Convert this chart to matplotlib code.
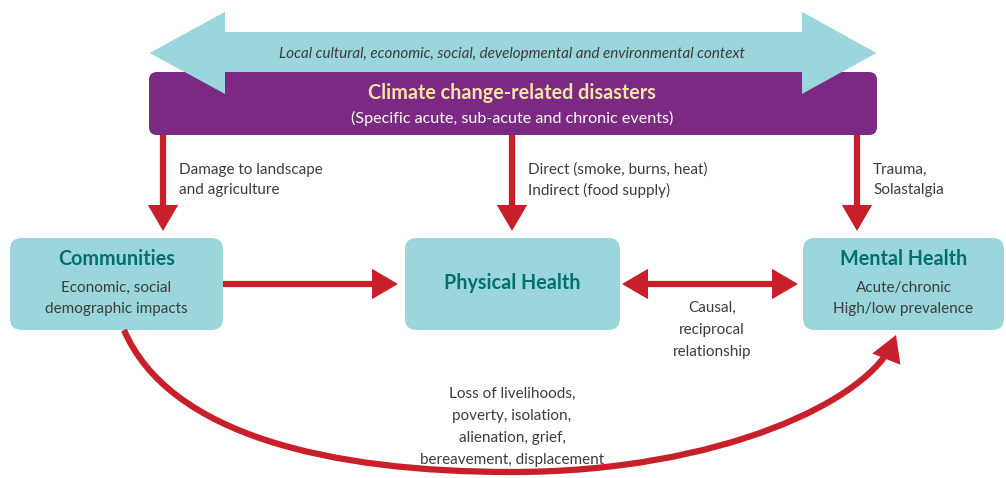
import matplotlib
matplotlib.use("Agg")
import matplotlib.pyplot as plt
from matplotlib.patches import FancyBboxPatch, FancyArrowPatch, Polygon
from matplotlib.path import Path

# ---- text content ----
context_label = "Local cultural, economic, social, developmental and environmental context"
disaster_title = "Climate change-related disasters"
disaster_sub = "(Specific acute, sub-acute and chronic events)"
box_titles = ["Communities", "Physical Health", "Mental Health"]
box_subs = [["Economic, social", "demographic impacts"], [], ["Acute/chronic", "High/low prevalence"]]
down_labels = [["Damage to landscape", "and agriculture"],
               ["Direct (smoke, burns, heat)", "Indirect (food supply)"],
               ["Trauma,", "Solastalgia"]]
causal_label = ["Causal,", "reciprocal", "relationship"]
bottom_label = ["Loss of livelihoods,", "poverty, isolation,", "alienation, grief,", "bereavement, displacement"]

# ---- styles ----
CYAN = "#9AD6DB"
PURPLE = "#7B2983"
RED = "#C8202A"
TEAL = "#00706F"
GRAY = "#3C3C3C"
YELLOW = "#F6E3A5"
FONT = "Lato"

W, H = 1006, 478
fig = plt.figure(figsize=(W / 100, H / 100), dpi=100)
ax = fig.add_axes([0, 0, 1, 1])
ax.set_xlim(0, W)
ax.set_ylim(H, 0)
ax.axis("off")

# top double-headed context arrow
cy = 53
shaft_h, head_h = 21, 41
xl, xr = 150, 876
bl, br = 225, 802
arrow_pts = [(xl, cy), (bl, cy - head_h), (bl, cy - shaft_h), (br, cy - shaft_h),
             (br, cy - head_h), (xr, cy), (br, cy + head_h), (br, cy + shaft_h),
             (bl, cy + shaft_h), (bl, cy + head_h)]
ax.add_patch(Polygon(arrow_pts, closed=True, facecolor=CYAN, edgecolor="none", zorder=1))
ax.text(512, 54, context_label, ha="center", va="center", fontsize=10.9, style="italic",
        color=GRAY, family=FONT, zorder=3)

# purple disasters box
ax.add_patch(FancyBboxPatch((149 + 8, 72 + 8), 728 - 16, 63 - 16,
                            boxstyle="round,pad=8", facecolor=PURPLE, edgecolor="none", zorder=2))
# arrowheads of the context arrow pass in front of the box
ax.add_patch(Polygon([(xl, cy), (bl, cy - head_h), (bl, cy + head_h)], closed=True,
                     facecolor=CYAN, edgecolor="none", zorder=2.5))
ax.add_patch(Polygon([(xr, cy), (br, cy - head_h), (br, cy + head_h)], closed=True,
                     facecolor=CYAN, edgecolor="none", zorder=2.5))
ax.text(512, 93, disaster_title, ha="center", va="center", fontsize=14.2, weight="bold",
        color=YELLOW, family=FONT, zorder=3)
ax.text(512, 118, disaster_sub, ha="center", va="center", fontsize=11.6,
        color="white", family=FONT, zorder=3)

# three boxes
boxes = [(10, 238, 213, 92), (405, 238, 215, 92), (803, 238, 201, 92)]
for (x, y, w, h), title, subs in zip(boxes, box_titles, box_subs):
    r = 12
    ax.add_patch(FancyBboxPatch((x + r, y + r), w - 2 * r, h - 2 * r,
                                boxstyle=f"round,pad={r}", facecolor=CYAN,
                                edgecolor="none", zorder=2))
    cx = x + w / 2
    if subs:
        ax.text(cx, 259, title, ha="center", va="center", fontsize=14.2, weight="bold",
                color=TEAL, family=FONT, zorder=3)
        for i, s in enumerate(subs):
            ax.text(cx, 288 + 21 * i, s, ha="center", va="center", fontsize=11,
                    color=GRAY, family=FONT, zorder=3)
    else:
        ax.text(cx, 283, title, ha="center", va="center", fontsize=14.2, weight="bold",
                color=TEAL, family=FONT, zorder=3)

LW = 4.5
HEAD = "-|>,head_length=12,head_width=7"
DHEAD = "<|-|>,head_length=12,head_width=7"

def straight(x0, y0, x1, y1, style):
    ax.add_patch(FancyArrowPatch((x0, y0), (x1, y1), arrowstyle=style,
                                 mutation_scale=1, color=RED, linewidth=LW,
                                 shrinkA=0, shrinkB=0, zorder=4,
                                 joinstyle="miter", capstyle="butt"))

down_x = [163, 512, 857]
for dx, lab in zip(down_x, down_labels):
    straight(dx, 135, dx, 231, HEAD)
    for i, s in enumerate(lab):
        ax.text(dx + 16, 170 + 20 * i, s, ha="left", va="center", fontsize=11,
                color=GRAY, family=FONT, zorder=3)

straight(223, 284, 398, 284, HEAD)
straight(622, 284, 798, 284, DHEAD)
for i, s in enumerate(causal_label):
    ax.text(712, 308 + 22 * i, s, ha="center", va="center", fontsize=11,
            color=GRAY, family=FONT, zorder=3)

# bottom curved arrow (two cubic segments)
curve = Path([(124, 330), (169, 435), (330, 472), (512, 472),
              (720, 472), (870, 400), (896, 335)],
             [Path.MOVETO, Path.CURVE4, Path.CURVE4, Path.CURVE4,
              Path.CURVE4, Path.CURVE4, Path.CURVE4])
ax.add_patch(FancyArrowPatch(path=curve, arrowstyle=HEAD, mutation_scale=1,
                             color=RED, linewidth=LW, zorder=4,
                             joinstyle="miter", capstyle="butt"))
for i, s in enumerate(bottom_label):
    ax.text(512, 394 + 22 * i, s, ha="center", va="center", fontsize=11,
            color=GRAY, family=FONT, zorder=3)

fig.savefig("out.png", dpi=100, facecolor="white")
